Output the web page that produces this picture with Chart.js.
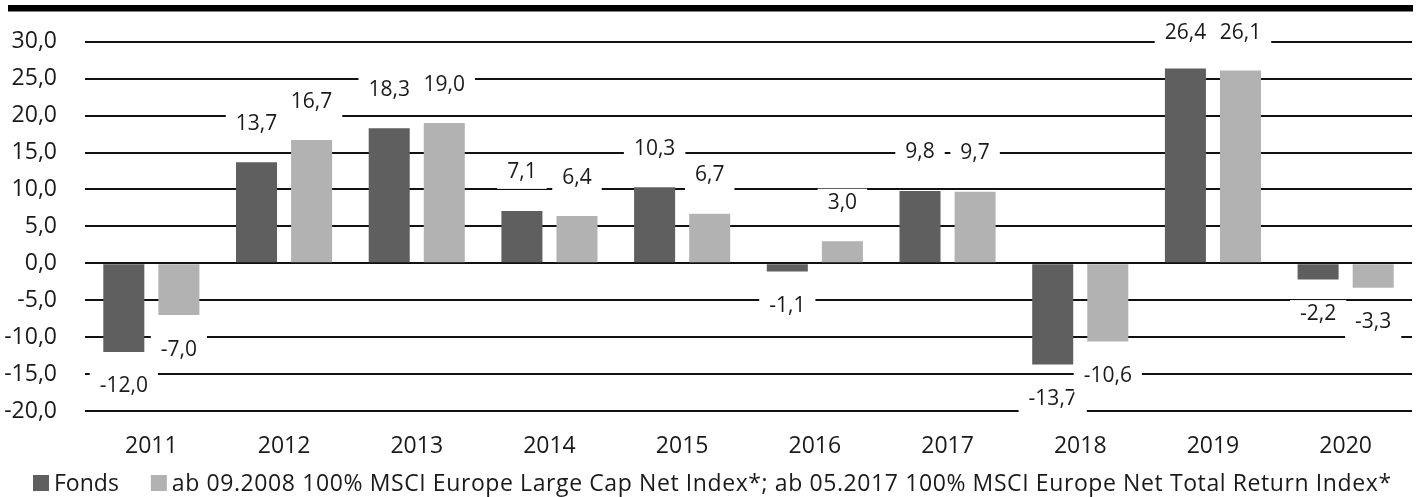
<!DOCTYPE html>
<html>
<head>
<meta charset="utf-8">
<script src="https://cdn.jsdelivr.net/npm/chart.js"></script>
<style>
  html, body { margin: 0; padding: 0; background: #fff; }
  #chart { display: block; }
</style>
</head>
<body>
<canvas id="chart" width="1419" height="497"></canvas>
<script>
// Jahre (Kategorien)
const years = ['2011', '2012', '2013', '2014', '2015', '2016', '2017', '2018', '2019', '2020'];

// Wertentwicklung in % pro Jahr
const fondsValues = [-12.0, 13.7, 18.3, 7.1, 10.3, -1.1, 9.8, -13.7, 26.4, -2.2];
const indexValues = [-7.0, 16.7, 19.0, 6.4, 6.7, 3.0, 9.7, -10.6, 26.1, -3.3];

// Legendentexte
const seriesNames = [
    'Fonds',
    'ab 09.2008 100% MSCI Europe Large Cap Net Index*; ab 05.2017 100% MSCI Europe Net Total Return Index*'
];

// y-Achse
const yMin = -20;
const yMax = 30;
const yStep = 5;

const fontFamily = "'Open Sans', 'Noto Sans', sans-serif";
const textColor = '#1a1a1a';
const darkGrey = '#5f5f5f';
const lightGrey = '#b2b2b2';

// Zahl im deutschen Format, eine Nachkommastelle
function formatValue(v) {
    return Number(v).toFixed(1).replace('.', ',');
}

// dicker schwarzer Balken ganz oben
const topRule = {
    id: 'topRule',
    afterDraw(chart) {
        const ctx = chart.ctx;
        ctx.save();
        ctx.fillStyle = '#000';
        ctx.fillRect(8, 5, 1405, 6.5);
        ctx.restore();
    }
};

// Datenbeschriftungen mit weissem Hintergrund
const valueLabels = {
    id: 'valueLabels',
    afterDatasetsDraw(chart) {
        const ctx = chart.ctx;
        ctx.save();
        ctx.font = '21px ' + fontFamily;
        ctx.textAlign = 'center';
        ctx.textBaseline = 'alphabetic';
        chart.data.datasets.forEach((ds, i) => {
            const meta = chart.getDatasetMeta(i);
            meta.data.forEach((bar, j) => {
                const v = ds.data[j];
                const text = formatValue(v);
                const p = bar.getProps(['x', 'y', 'base'], true);
                const top = Math.min(p.y, p.base);
                const bottom = Math.max(p.y, p.base);
                // ganz oben rückt die Beschriftung etwas näher an den Balken
                const center = v >= 0 ? Math.max(top - 40, chart.chartArea.top - 10) : bottom + 33;
                const w = ctx.measureText(text).width;
                ctx.fillStyle = '#fff';
                ctx.fillRect(p.x - w / 2 - 10, center - 12.5, w + 20, 30.5);
                ctx.fillStyle = textColor;
                ctx.fillText(text, p.x, center + 7.5);
            });
        });
        ctx.restore();
    }
};

// Legende unten links
const bottomLegend = {
    id: 'bottomLegend',
    afterDraw(chart) {
        const ctx = chart.ctx;
        ctx.save();
        ctx.font = '23px ' + fontFamily;
        ctx.textBaseline = 'alphabetic';
        const baseline = 491;
        let x = 33;
        chart.data.datasets.forEach((ds, i) => {
            ctx.fillStyle = ds.backgroundColor;
            ctx.fillRect(x, baseline - 16, 16, 16);
            x += 16 + 5;
            ctx.fillStyle = textColor;
            ctx.letterSpacing = i === 0 ? '0px' : '0.6px';
            ctx.fillText(ds.label, x, baseline);
            x += ctx.measureText(ds.label).width + 32;
        });
        ctx.restore();
    }
};

const ctx = document.getElementById('chart').getContext('2d');
const chart = new Chart(ctx, {
    type: 'bar',
    data: {
        labels: years,
        datasets: [{
            label: seriesNames[0],
            data: fondsValues,
            backgroundColor: darkGrey,
            categoryPercentage: 0.83,
            barPercentage: 0.745
        }, {
            label: seriesNames[1],
            data: indexValues,
            backgroundColor: lightGrey,
            categoryPercentage: 0.83,
            barPercentage: 0.745
        }]
    },
    options: {
        responsive: false,
        animation: false,
        devicePixelRatio: 1,
        layout: { padding: { top: 37, right: 7, left: 0, bottom: 0 } },
        plugins: {
            legend: { display: false },
            tooltip: { enabled: false }
        },
        scales: {
            x: {
                grid: { display: false, drawTicks: false },
                border: { display: false },
                ticks: {
                    font: { family: fontFamily, size: 23 },
                    color: textColor,
                    padding: 22
                },
                afterFit(scale) { scale.height = 86; }
            },
            y: {
                min: yMin,
                max: yMax,
                ticks: {
                    stepSize: yStep,
                    callback: v => formatValue(v),
                    font: { family: fontFamily, size: 23 },
                    color: textColor,
                    padding: 28
                },
                grid: { color: '#111', lineWidth: 2, drawTicks: false },
                border: { display: false },
                afterFit(scale) { scale.width = 85; }
            }
        }
    },
    plugins: [valueLabels, bottomLegend, topRule]
});
</script>
</body>
</html>
